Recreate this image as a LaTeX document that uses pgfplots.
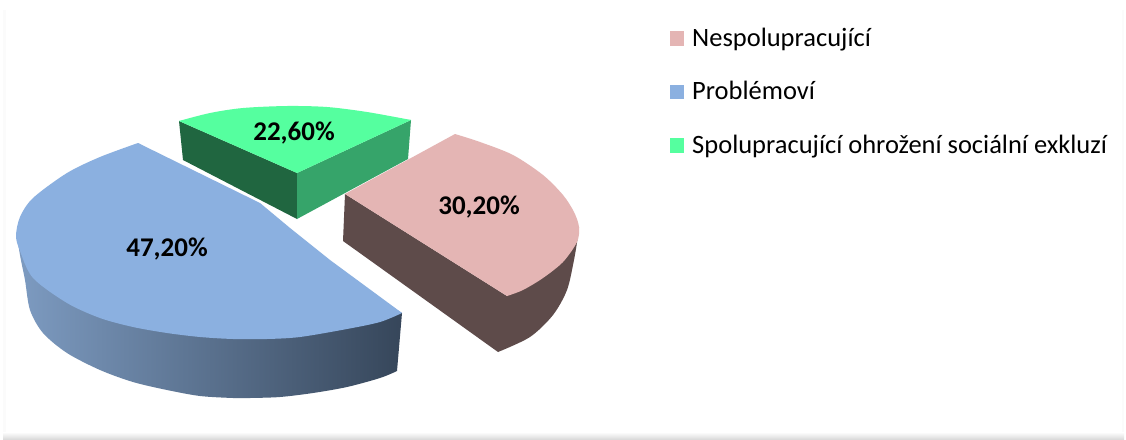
\documentclass[border=0pt]{standalone}
\usepackage{pgfplots}
\pgfplotsset{compat=1.18}
\usepackage{fontspec}
\setmainfont{Carlito}
\definecolor{pinktop}{HTML}{E4B5B4}
\definecolor{pinkside}{HTML}{5E4B4A}
\definecolor{bluetop}{HTML}{8BB0E0}
\definecolor{greentop}{HTML}{55FF9F}
\definecolor{greenL}{HTML}{206640}
\definecolor{greenR}{HTML}{36A46A}
\definecolor{blueA}{HTML}{7D9BC1}
\definecolor{blueB}{HTML}{586E8E}
\definecolor{blueC}{HTML}{36465A}
\begin{document}
\begin{tikzpicture}
\begin{axis}[
  scale only axis, width=1126pt, height=439pt,
  xmin=0, xmax=1126, ymin=0, ymax=439, y dir=reverse,
  axis lines=none, clip=true,
]
% page edges
\addplot[draw=none, fill=white] coordinates {(0,0)(1126,0)(1126,439)(0,439)} --cycle;
\addplot[draw=none, fill=black!1.5] coordinates {(3,10)(6,10)(6,436)(3,436)} --cycle;
\addplot[draw=none, fill=black!1.5] coordinates {(1122,10)(1124,10)(1124,436)(1122,436)} --cycle;
\addplot[draw=none, top color=white, bottom color=black!14] coordinates {(3,432)(1124,432)(1124,439)(3,439)} --cycle;
% blue side
\addplot[draw=none, smooth, left color=blueA, middle color=blueB, right color=blueC] coordinates {
(397,371)(380,378)(347,387)(313,393)(280,397)(250,398)(233,398)(200,396)(167,390)(133,382)(100,370)(67,353)(43,333)(30,310)(25,280)(20,255)(19,240)(30,220)(60,200)(200,260)(402,313)} --cycle;
% blue top
\addplot[draw=none, fill=bluetop] coordinates {(138,143)(200,260)(402,313)(330,260)(300,236)(290,228)(260,203)} --cycle;
\addplot[draw=none, smooth, fill=bluetop] coordinates {
(138,143)(100,157)(67,173)(33,198)(20,217)(16,236)(20,251)(33,278)(67,303)(100,318)(133,327)(167,333)(200,337)(233,339)(267,339)(300,337)(347,329)(380,322)(402,313)} --cycle;
% green
\addplot[draw=none, fill=greenL] coordinates {(179,121)(297,173)(297,219)(183,160)} --cycle;
\addplot[draw=none, fill=greenR] coordinates {(297,173)(411,120)(408,159)(297,219)} --cycle;
\addplot[draw=none, fill=greentop] coordinates {(179,121)(295,115)(411,120)(297,173)} --cycle;
\addplot[draw=none, smooth, fill=greentop] coordinates {(179,121)(210,113)(243,108)(287,106)(327,107)(367,112)(411,120)} --cycle;
% pink
\addplot[draw=none, fill=pinkside] coordinates {(345,194)(343,241)(498,352)(550,300)(579,227)(507,296)} --cycle;
\addplot[draw=none, smooth, fill=pinkside] coordinates {(498,352)(530,337)(553,315)(567,290)(574,260)(578,236)(579,227)} --cycle;
\addplot[draw=none, fill=pinktop] coordinates {(345,194)(455,134)(520,200)(507,296)} --cycle;
\addplot[draw=none, smooth, fill=pinktop] coordinates {(455,134)(480,142)(513,155)(543,175)(563,195)(574,212)(579,227)(577,242)(563,262)(543,278)(523,290)(507,296)} --cycle;
% legend keys
\addplot[draw=none, fill=pinktop] coordinates {(670,31)(684,31)(684,46)(670,46)} --cycle;
\addplot[draw=none, fill=bluetop] coordinates {(670,85)(684,85)(684,99)(670,99)} --cycle;
\addplot[draw=none, fill=greentop] coordinates {(670,138)(684,138)(684,153)(670,153)} --cycle;
% labels
\node[font=\fontsize{27}{27}\selectfont\bfseries] at (axis cs:167,249) {47,20\%};
\node[font=\fontsize{27}{27}\selectfont\bfseries] at (axis cs:479,207) {30,20\%};
\node[font=\fontsize{27}{27}\selectfont\bfseries] at (axis cs:294,133) {22,60\%};
\node[font=\fontsize{26.5}{26.5}\selectfont, anchor=base west, inner sep=0pt] at (axis cs:692,46) {Nespolupracující};
\node[font=\fontsize{26.5}{26.5}\selectfont, anchor=base west, inner sep=0pt] at (axis cs:692,99) {Problémoví};
\node[font=\fontsize{26.5}{26.5}\selectfont, anchor=base west, inner sep=0pt] at (axis cs:692,153) {Spolupracující ohrožení sociální exkluzí};
\end{axis}
\end{tikzpicture}
\end{document}
